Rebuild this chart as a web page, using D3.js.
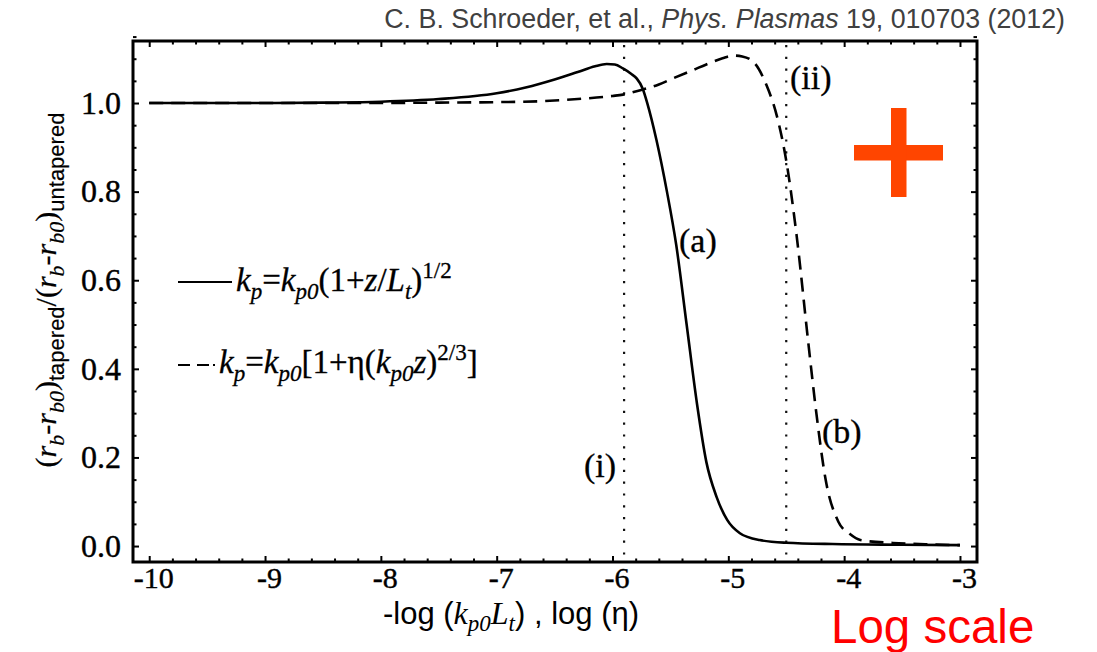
<!DOCTYPE html>
<html>
<head>
<meta charset="utf-8">
<script src="https://cdn.jsdelivr.net/npm/d3@7"></script>
<style>
  html, body { margin: 0; padding: 0; background: #fff; }
  svg { display: block; }
</style>
</head>
<body>
<svg id="chart" width="1097" height="652"></svg>
<script>
// ---------------- data ----------------
const xTickValues = [-10, -9, -8, -7, -6, -5, -4, -3];
const xTickLabels = ["-10", "-9", "-8", "-7", "-6", "-5", "-4", "-3"];
const yTickValues = [0, 0.2, 0.4, 0.6, 0.8, 1.0];
const yTickLabels = ["0.0", "0.2", "0.4", "0.6", "0.8", "1.0"];

// curve (a): k_p = k_p0 (1+z/L_t)^(1/2), x = -log(k_p0 L_t)
const xA = [-10, -9, -8.5, -8, -7.5, -7.0, -6.75, -6.5, -6.3, -6.15, -6.05, -5.98, -5.91, -5.84, -5.79, -5.74, -5.70, -5.62, -5.53, -5.45, -5.36, -5.27, -5.19, -5.10, -5.01, -4.90, -4.73, -4.50, -4.10, -3.5, -3.0];
const yA = [1.0, 1.0, 1.001, 1.003, 1.009, 1.022, 1.035, 1.053, 1.07, 1.083, 1.088, 1.087, 1.078, 1.066, 1.055, 1.033, 1.0, 0.916, 0.80, 0.68, 0.50, 0.32, 0.19, 0.11, 0.059, 0.029, 0.0135, 0.0075, 0.0045, 0.003, 0.002];

// curve (b): k_p = k_p0 [1+eta (k_p0 z)^(2/3)], x = log(eta)
const xB = [-10, -9, -8, -7.5, -7, -6.62, -6.3, -6.0, -5.91, -5.76, -5.6, -5.475, -5.3, -5.19, -5.05, -4.95, -4.88, -4.78, -4.67, -4.58, -4.50, -4.41, -4.31, -4.24, -4.16, -4.05, -3.95, -3.86, -3.58, -3.3, -3.0];
const yB = [1.0, 1.0, 1.0, 1.001, 1.002, 1.004, 1.009, 1.016, 1.019, 1.029, 1.042, 1.056, 1.075, 1.087, 1.101, 1.107, 1.105, 1.092, 1.04, 0.97, 0.87, 0.70, 0.46, 0.30, 0.15, 0.055, 0.027, 0.0135, 0.007, 0.004, 0.002];

// vertical reference lines (i), (ii)
const refLines = [-5.9, -4.5];

// ---------------- layout ----------------
const SERIF = "'Liberation Serif', 'Times New Roman', serif";
const SANS = "'Liberation Sans', Arial, sans-serif";
const L = 133, R = 977, T = 41, B = 562;

const svg = d3.select("#chart");

const x = d3.scaleLinear().domain([-10.14, -2.853]).range([L, R]);
const y = d3.scaleLinear().domain([-0.036, 1.14]).range([B, T]);

svg.append("defs").append("clipPath").attr("id", "clip")
  .append("rect").attr("x", L).attr("y", T).attr("width", R - L).attr("height", B - T);

// reference dotted lines
svg.append("g").selectAll("line").data(refLines).join("line")
  .attr("x1", d => x(d)).attr("x2", d => x(d))
  .attr("y1", T + 4).attr("y2", B - 2)
  .attr("stroke", "#111").attr("stroke-width", 2.2)
  .attr("stroke-dasharray", "2.2,9.6");

// curves
const line = d3.line().x(d => x(d[0])).y(d => y(d[1])).curve(d3.curveMonotoneX);
const g = svg.append("g").attr("clip-path", "url(#clip)");
g.append("path").datum(d3.zip(xA, yA)).attr("d", line)
  .attr("fill", "none").attr("stroke", "#000").attr("stroke-width", 2.6);
g.append("path").datum(d3.zip(xB, yB)).attr("d", line)
  .attr("fill", "none").attr("stroke", "#000").attr("stroke-width", 2.6)
  .attr("stroke-dasharray", "14,8");

// axes (ticks pointing inward)
const xMinor = d3.range(-10, -2.99, 0.2).filter(v => Math.abs(v - Math.round(v)) > 1e-6);
const yMinor = d3.range(0, 1.151, 0.05).filter(v => Math.abs(v * 5 - Math.round(v * 5)) > 1e-6);
const yMajorAll = [0, 0.2, 0.4, 0.6, 0.8, 1.0];

function styleAxis(sel) {
  sel.select(".domain").remove();
  sel.selectAll(".tick line").attr("stroke", "#000").attr("stroke-width", 2);
}
function styleLabels(size) {
  return sel => sel.selectAll("text").attr("font-family", SERIF).attr("font-size", size)
    .attr("fill", "#000").attr("stroke", "#000").attr("stroke-width", 0.4);
}

// bottom
svg.append("g").attr("transform", `translate(0,${B})`)
  .call(d3.axisBottom(x).tickValues(xTickValues).tickSize(-6).tickPadding(5)
    .tickFormat((d, i) => xTickLabels[i]))
  .call(styleAxis).call(styleLabels(30))
  .call(s => s.selectAll("text").attr("dx", 4));
svg.append("g").attr("transform", `translate(0,${B})`)
  .call(d3.axisBottom(x).tickValues(xMinor).tickSize(-3.5).tickFormat(""))
  .call(styleAxis);
// top
svg.append("g").attr("transform", `translate(0,${T})`)
  .call(d3.axisTop(x).tickValues(xTickValues).tickSize(-6).tickFormat(""))
  .call(styleAxis);
svg.append("g").attr("transform", `translate(0,${T})`)
  .call(d3.axisTop(x).tickValues(xMinor).tickSize(-3.5).tickFormat(""))
  .call(styleAxis);
// left
svg.append("g").attr("transform", `translate(${L},0)`)
  .call(d3.axisLeft(y).tickValues(yTickValues).tickSize(-6).tickPadding(12)
    .tickFormat((d, i) => yTickLabels[i]))
  .call(styleAxis).call(styleLabels(32));
svg.append("g").attr("transform", `translate(${L},0)`)
  .call(d3.axisLeft(y).tickValues(yMinor).tickSize(-3.5).tickFormat(""))
  .call(styleAxis);
// right
svg.append("g").attr("transform", `translate(${R},0)`)
  .call(d3.axisRight(y).tickValues(yMajorAll).tickSize(-6).tickFormat(""))
  .call(styleAxis);
svg.append("g").attr("transform", `translate(${R},0)`)
  .call(d3.axisRight(y).tickValues(yMinor).tickSize(-3.5).tickFormat(""))
  .call(styleAxis);

// frame
svg.append("rect").attr("x", L).attr("y", T).attr("width", R - L).attr("height", B - T)
  .attr("fill", "none").attr("stroke", "#000").attr("stroke-width", 3);

// ---------------- rich text helper ----------------
function rich(parent, xPos, yPos, parts, opts = {}) {
  const t = parent.append("text").attr("x", xPos).attr("y", yPos)
    .attr("text-anchor", opts.anchor || "start").attr("fill", opts.fill || "#000");
  if (opts.transform) t.attr("transform", opts.transform);
  if (opts.stroke) t.attr("stroke", opts.fill || "#000").attr("stroke-width", opts.stroke);
  let cur = 0;
  parts.forEach(p => {
    const [txt, o] = p;
    const off = o.off || 0;
    t.append("tspan").text(txt)
      .attr("font-family", o.font || SERIF)
      .attr("font-size", o.size)
      .attr("font-style", o.italic ? "italic" : "normal")
      .attr("dy", off - cur);
    cur = off;
  });
  return t;
}

// legend
const LS = 33, LSub = 23;
svg.append("line").attr("x1", 178).attr("x2", 232).attr("y1", 282).attr("y2", 282)
  .attr("stroke", "#000").attr("stroke-width", 2.2);
rich(svg, 236, 291, [
  ["k", {size: LS, italic: true}], ["p", {size: LSub, italic: true, off: 8}],
  ["=", {size: LS}], ["k", {size: LS, italic: true}], ["p0", {size: LSub, italic: true, off: 8}],
  ["(1+", {size: LS}], ["z", {size: LS, italic: true}], ["/", {size: LS}], ["L", {size: LS, italic: true}],
  ["t", {size: LSub, italic: true, off: 8}], [")", {size: LS}], ["1/2", {size: LSub, off: -13}]
], {stroke: 0.3});
svg.append("line").attr("x1", 178).attr("x2", 216).attr("y1", 365).attr("y2", 365)
  .attr("stroke", "#000").attr("stroke-width", 2.2).attr("stroke-dasharray", "12,7,12,4,2,40");
rich(svg, 219, 373, [
  ["k", {size: LS, italic: true}], ["p", {size: LSub, italic: true, off: 8}],
  ["=", {size: LS}], ["k", {size: LS, italic: true}], ["p0", {size: LSub, italic: true, off: 8}],
  ["[1+η(", {size: LS}], ["k", {size: LS, italic: true}], ["p0", {size: LSub, italic: true, off: 8}],
  ["z", {size: LS, italic: true}], [")", {size: LS}], ["2/3", {size: LSub, off: -13}], ["]", {size: LS}]
], {stroke: 0.3});

// annotations
const ann = [["(a)", 679, 252], ["(b)", 822, 443], ["(i)", 584, 477], ["(ii)", 790, 89]];
svg.append("g").selectAll("text").data(ann).join("text")
  .attr("x", d => d[1]).attr("y", d => d[2]).text(d => d[0])
  .attr("font-family", SERIF).attr("font-size", 34).attr("fill", "#000")
  .attr("stroke", "#000").attr("stroke-width", 0.3);

// x-axis title
rich(svg, 511, 624, [
  ["-log (", {font: SANS, size: 31}],
  ["k", {size: 32, italic: true}], ["p0", {size: 23, italic: true, off: 7}],
  ["L", {size: 32, italic: true}], ["t", {size: 23, italic: true, off: 7}],
  [") , log (η)", {font: SANS, size: 31}]
], {anchor: "middle"});

// y-axis title
rich(svg, 0, 0, [
  ["(", {size: 30}], ["r", {size: 30, italic: true}], ["b", {size: 22, italic: true, off: 8}],
  ["-", {size: 30}], ["r", {size: 30, italic: true}], ["b0", {size: 22, italic: true, off: 8}],
  [")", {size: 30}], ["tapered", {font: SANS, size: 22, off: 8}],
  ["/(", {size: 30}], ["r", {size: 30, italic: true}], ["b", {size: 22, italic: true, off: 8}],
  ["-", {size: 30}], ["r", {size: 30, italic: true}], ["b0", {size: 22, italic: true, off: 8}],
  [")", {size: 30}], ["untapered", {font: SANS, size: 22, off: 8}]
], {anchor: "middle", transform: "translate(56,290) rotate(-90)", stroke: 0.2});

// citation
rich(svg, 1065, 28, [
  ["C. B. Schroeder, et al., ", {font: SANS, size: 26.8}],
  ["Phys. Plasmas", {font: SANS, size: 26.8, italic: true}],
  [" 19, 010703 (2012)", {font: SANS, size: 26.8}]
], {anchor: "end", fill: "#404040"});

// plus sign
svg.append("rect").attr("x", 854).attr("y", 145).attr("width", 89).attr("height", 15.5).attr("fill", "#FF4500");
svg.append("rect").attr("x", 891).attr("y", 108).attr("width", 15.5).attr("height", 89).attr("fill", "#FF4500");

// Log scale
svg.append("text").attr("x", 831).attr("y", 643).text("Log scale")
  .attr("font-family", SANS).attr("font-size", 47.5).attr("fill", "#FF0000");
</script>
</body>
</html>
